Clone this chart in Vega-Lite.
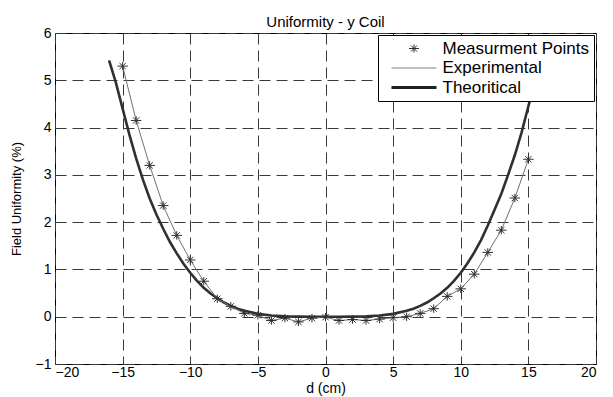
{
  "$schema": "https://vega.github.io/schema/vega-lite/v6.json",
  "width": 541,
  "height": 331,
  "autosize": "none",
  "padding": {"left": 55, "top": 33, "right": 17, "bottom": 33},
  "background": "white",
  "title": {"text": "Uniformity - y Coil", "font": "Liberation Sans", "fontSize": 15, "fontWeight": "normal", "color": "black", "offset": -4},
  "config": {
    "view": {"stroke": "black", "strokeWidth": 1},
    "axis": {
      "labelFont": "Liberation Sans", "titleFont": "Liberation Sans",
      "labelColor": "black", "titleColor": "black", "titleFontWeight": "normal",
      "gridColor": "#383838", "gridDash": [11, 6], "gridOpacity": 1, "gridWidth": 1,
      "domain": false, "ticks": false
    },
    "legend": {
      "orient": "top-right", "offset": 2,
      "padding": 5, "strokeColor": "black", "fillColor": "white", "cornerRadius": 0,
      "labelFont": "Liberation Sans", "labelFontSize": 17, "labelColor": "black",
      "symbolSize": 100, "symbolFillColor": "transparent", "symbolStrokeWidth": 1,
      "symbolOffset": 22.5, "labelOffset": 20, "rowPadding": 1.5
    }
  },
  "datasets": {
    "meas": [
      {"d": -15, "u": 5.3, "series": "Measurment Points"},
      {"d": -14, "u": 4.15, "series": "Measurment Points"},
      {"d": -13, "u": 3.2, "series": "Measurment Points"},
      {"d": -12, "u": 2.35, "series": "Measurment Points"},
      {"d": -11, "u": 1.72, "series": "Measurment Points"},
      {"d": -10, "u": 1.2, "series": "Measurment Points"},
      {"d": -9, "u": 0.75, "series": "Measurment Points"},
      {"d": -8, "u": 0.38, "series": "Measurment Points"},
      {"d": -7, "u": 0.22, "series": "Measurment Points"},
      {"d": -6, "u": 0.07, "series": "Measurment Points"},
      {"d": -5, "u": 0.03, "series": "Measurment Points"},
      {"d": -4, "u": -0.08, "series": "Measurment Points"},
      {"d": -3, "u": -0.03, "series": "Measurment Points"},
      {"d": -2, "u": -0.11, "series": "Measurment Points"},
      {"d": -1, "u": -0.03, "series": "Measurment Points"},
      {"d": 0, "u": -0.01, "series": "Measurment Points"},
      {"d": 1, "u": -0.08, "series": "Measurment Points"},
      {"d": 2, "u": -0.06, "series": "Measurment Points"},
      {"d": 3, "u": -0.08, "series": "Measurment Points"},
      {"d": 4, "u": -0.05, "series": "Measurment Points"},
      {"d": 5, "u": -0.02, "series": "Measurment Points"},
      {"d": 6, "u": 0.0, "series": "Measurment Points"},
      {"d": 7, "u": 0.07, "series": "Measurment Points"},
      {"d": 8, "u": 0.17, "series": "Measurment Points"},
      {"d": 9, "u": 0.43, "series": "Measurment Points"},
      {"d": 10, "u": 0.59, "series": "Measurment Points"},
      {"d": 11, "u": 0.9, "series": "Measurment Points"},
      {"d": 12, "u": 1.36, "series": "Measurment Points"},
      {"d": 13, "u": 1.83, "series": "Measurment Points"},
      {"d": 14, "u": 2.51, "series": "Measurment Points"},
      {"d": 15, "u": 3.33, "series": "Measurment Points"}
    ],
    "theory": [
      {"d": -16, "u": 5.42}, {"d": -15.5, "u": 4.95}, {"d": -15, "u": 4.4}, {"d": -14.5, "u": 3.85},
      {"d": -14, "u": 3.35}, {"d": -13.5, "u": 2.9}, {"d": -13, "u": 2.5}, {"d": -12.5, "u": 2.16},
      {"d": -12, "u": 1.86}, {"d": -11.5, "u": 1.58}, {"d": -11, "u": 1.34}, {"d": -10.5, "u": 1.12},
      {"d": -10, "u": 0.93}, {"d": -9.5, "u": 0.76}, {"d": -9, "u": 0.61}, {"d": -8.5, "u": 0.49},
      {"d": -8, "u": 0.39}, {"d": -7.5, "u": 0.3}, {"d": -7, "u": 0.23}, {"d": -6.5, "u": 0.17},
      {"d": -6, "u": 0.125}, {"d": -5, "u": 0.06}, {"d": -4, "u": 0.025}, {"d": -3, "u": 0.008},
      {"d": -2, "u": 0.002}, {"d": -1, "u": 0.0}, {"d": 0, "u": 0.0}, {"d": 1, "u": 0.0},
      {"d": 2, "u": 0.002}, {"d": 3, "u": 0.008}, {"d": 4, "u": 0.025}, {"d": 5, "u": 0.06},
      {"d": 6, "u": 0.125}, {"d": 6.5, "u": 0.17}, {"d": 7, "u": 0.23}, {"d": 7.5, "u": 0.3},
      {"d": 8, "u": 0.39}, {"d": 8.5, "u": 0.49}, {"d": 9, "u": 0.61}, {"d": 9.5, "u": 0.76},
      {"d": 10, "u": 0.93}, {"d": 10.5, "u": 1.13}, {"d": 11, "u": 1.36}, {"d": 11.5, "u": 1.62},
      {"d": 12, "u": 1.93}, {"d": 12.5, "u": 2.26}, {"d": 13, "u": 2.6}, {"d": 13.5, "u": 3.0},
      {"d": 14, "u": 3.42}, {"d": 14.5, "u": 3.9}, {"d": 15, "u": 4.45}, {"d": 15.5, "u": 4.98},
      {"d": 16, "u": 5.45}
    ]
  },
  "layer": [
    {
      "data": {"name": "theory"},
      "mark": {"type": "line", "color": "#303030", "strokeWidth": 2.6},
      "encoding": {
        "x": {
          "field": "d", "type": "quantitative",
          "scale": {"domain": [-20, 20], "nice": false, "zero": false},
          "axis": {
            "values": [-20, -15, -10, -5, 0, 5, 10, 15, 20],
            "labelFontSize": 14, "labelPadding": 1,
            "title": "d (cm)", "titleFontSize": 14, "titlePadding": 2
          }
        },
        "y": {
          "field": "u", "type": "quantitative",
          "scale": {"domain": [-1, 6], "nice": false, "zero": false},
          "axis": {
            "values": [-1, 0, 1, 2, 3, 4, 5, 6],
            "labelFontSize": 14, "labelPadding": 4,
            "title": "Field Uniformity (%)", "titleFontSize": 13, "titlePadding": 12
          }
        }
      }
    },
    {
      "data": {"name": "meas"},
      "mark": {"type": "line", "color": "#707070", "strokeWidth": 1},
      "encoding": {
        "x": {"field": "d", "type": "quantitative"},
        "y": {"field": "u", "type": "quantitative"}
      }
    },
    {
      "data": {"name": "meas"},
      "mark": {"type": "point", "filled": false, "size": 110, "strokeWidth": 1, "opacity": 1},
      "encoding": {
        "x": {"field": "d", "type": "quantitative"},
        "y": {"field": "u", "type": "quantitative"},
        "shape": {
          "field": "series", "type": "nominal",
          "scale": {
            "domain": ["Measurment Points", "Experimental", "Theoritical"],
            "range": [
              "M-1,0L1,0M0,-0.8L0,0.8M-0.6,-0.6L0.6,0.6M-0.6,0.6L0.6,-0.6",
              "M-4.5,0L4.5,0",
              "M-4.5,-0.2L4.5,-0.2M-4.5,0L4.5,0M-4.5,0.2L4.5,0.2"
            ]
          },
          "legend": {"title": null}
        },
        "color": {
          "field": "series", "type": "nominal",
          "scale": {
            "domain": ["Measurment Points", "Experimental", "Theoritical"],
            "range": ["#303030", "#808080", "#202020"]
          },
          "legend": {"title": null}
        }
      }
    }
  ]
}
